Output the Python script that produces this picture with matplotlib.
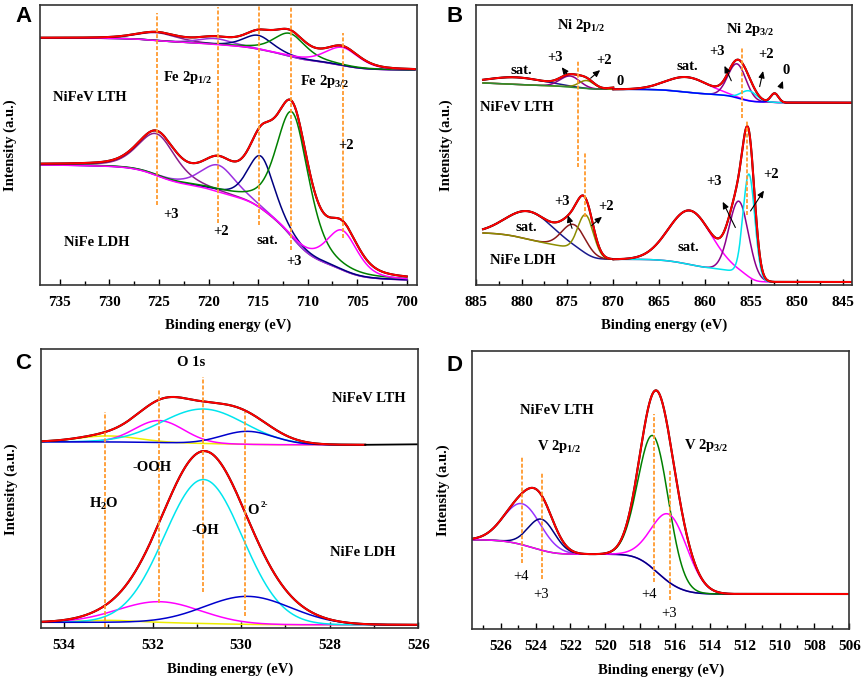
import numpy as np
import matplotlib.pyplot as plt
from matplotlib.ticker import MultipleLocator

plt.rcParams['font.family'] = 'Liberation Serif'
plt.rcParams['font.weight'] = 'bold'
plt.rcParams['axes.labelweight'] = 'bold'
plt.rcParams['mathtext.fontset'] = 'custom'
plt.rcParams['mathtext.rm'] = 'Liberation Serif:bold'
plt.rcParams['mathtext.it'] = 'Liberation Serif:bold'
plt.rcParams['mathtext.bf'] = 'Liberation Serif:bold'

#===== peak data =================================#
# heights in a.u. (above background), positions / fwhm in eV

# A : Fe 2p
A_ldh_range = (700.0, 737.0)
A_ldh_bg = (120, 5)            # high-BE end, low-BE end
A_ldh_pos = [725.2, 719.0, 714.7, 711.5, 706.5]
A_ldh_hgt = [42, 27, 53, 126, 40]
A_ldh_fwhm = [4.5, 4.2, 3.2, 3.9, 3.7]

A_lth_range = (699.2, 737.0)
A_lth_bg = (247, 215)
A_lth_pos = [725.2, 719.3, 715.0, 711.8, 706.5]
A_lth_hgt = [8, 6, 14, 23, 18]
A_lth_fwhm = [5.0, 4.0, 3.5, 3.8, 4.0]

A_col = ['#8B1C8B', '#9B30E0', '#000080', '#008000', '#FF00FF']

# B : Ni 2p  (two fit regions, split at 870 eV)
B_ldh_r1 = (870.0, 884.2)
B_ldh_bg1 = (52, 25.7)
B_ldh_pos1 = [879.1, 874.3, 873.0]
B_ldh_hgt1 = [28, 25, 40]
B_ldh_fwhm1 = [6.0, 3.0, 2.0]
B_ldh_col1 = ['#1A1A8C', '#8B1A1A', '#8C8C00']

B_ldh_r2 = (844.0, 870.0)
B_ldh_bg2 = (25.7, 3)
B_ldh_pos2 = [861.6, 856.3, 855.2]
B_ldh_hgt2 = [54, 72, 104]
B_ldh_fwhm2 = [5.5, 2.5, 1.5]
B_ldh_col2 = ['#FF00FF', '#8B008B', '#00E5EE']

B_lth_r1 = (870.0, 884.2)
B_lth_bg1 = (202, 195.7)
B_lth_pos1 = [880.5, 874.7, 872.9, 869.5]
B_lth_hgt1 = [7, 11, 8, 2]
B_lth_fwhm1 = [7.0, 2.5, 2.0, 2.0]
B_lth_col1 = ['#1A1A8C', '#8B008B', '#8C8C00', '#2E8B2E']

B_lth_r2 = (844.0, 870.0)
B_lth_bg2 = (195.7, 182.3)
B_lth_pos2 = [861.9, 856.5, 855.2, 852.4]
B_lth_hgt2 = [15, 34, 10, 9]
B_lth_fwhm2 = [5.5, 2.3, 2.0, 1.0]
B_lth_col2 = ['#FF00FF', '#8B008B', '#00E5EE', '#0000FF']

# C : O 1s
C_lth_range = (527.2, 534.52)
C_lth_bg = (186.5, 183.5)
C_lth_pos = [533.0, 531.85, 530.85, 529.85]
C_lth_hgt = [6, 22, 34.5, 13]
C_lth_fwhm = [1.6, 1.3, 2.2, 1.4]

C_ldh_range = (526.0, 534.52)
C_ldh_bg = (6, 3.5)
C_ldh_pos = [533.0, 531.85, 530.85, 529.85]
C_ldh_hgt = [2, 21, 144, 28]
C_ldh_fwhm = [1.5, 2.2, 2.07, 2.3]

C_col = ['#EEEE00', '#FF00FF', '#00E5EE', '#0000CD']

# D : V 2p
D_range = (506.0, 527.6)
D_bg = (89.5, 35.3)
D_pos = [524.76, 523.65, 517.23, 516.28]
D_hgt = [41, 31, 133, 68]
D_fwhm = [2.5, 1.8, 2.05, 2.4]
D_col = ['#9933FF', '#000080', '#008000', '#FF00FF']

#===== helpers ============#
orange = '#FF9A2E'

def peak(E, p, h, w, eta):
    x = (E - p) / w
    return h * ((1 - eta) * np.exp(-4 * np.log(2) * x**2) + eta / (1 + 4 * x**2))

def draw_fit(ax, rng, bg_ends, pos, hgt, fwhm, cols, eta=0.0):
    E = np.linspace(rng[0], rng[1], 900)
    comps = [peak(E, p, h, w, eta) for p, h, w in zip(pos, hgt, fwhm)]
    tot = np.sum(comps, axis=0)
    c = np.cumsum(tot)
    bg = bg_ends[1] + (bg_ends[0] - bg_ends[1]) * c / c[-1]   # Shirley type
    for comp, col in zip(comps, cols):
        ax.plot(E, bg + comp, color=col, lw=1.1)
    ax.plot(E, bg + tot, color='black', lw=1.5)
    ax.plot(E, bg + tot, color='#FF0000', lw=1.4)

def vline(ax, x, y0, y1):
    ax.plot([x, x], [y0, y1], color=orange, lw=1.3, ls=(0, (2.2, 1.1)))

def arrow(ax, tail, head):
    ax.annotate('', xy=head, xytext=tail,
                arrowprops=dict(arrowstyle='-|>,head_length=0.4,head_width=0.18',
                                lw=0.8, color='black'))

def setup(ax, xlim, ymax, major, minor):
    ax.set_xlim(xlim)
    ax.set_ylim(0, ymax)
    ax.set_yticks([])
    ax.xaxis.set_major_locator(MultipleLocator(major))
    ax.xaxis.set_minor_locator(MultipleLocator(minor))
    ax.tick_params(axis='x', which='both', direction='in', labelsize=11, pad=8)
    ax.tick_params(axis='x', which='major', length=4, width=1)
    ax.tick_params(axis='x', which='minor', length=3, width=1)
    for s in ax.spines.values():
        s.set_linewidth(1.2)
        s.set_color('#333333')
    ax.set_xlabel('Binding energy (eV)', fontsize=10.5, labelpad=7)
    ax.set_ylabel('Intensity (a.u.)', fontsize=10.5)
    ax.yaxis.set_label_coords(-0.06, 0.5)

W, H = 865, 683
fig = plt.figure(figsize=(W / 100, H / 100), dpi=100)

def box(l, t, r, b):
    return [l / W, (H - b) / H, (r - l) / W, (b - t) / H]

tk = dict(fontsize=10.5, ha='center', va='center')

#===== A ============#
axA = fig.add_axes(box(40, 5, 416.7, 285))
setup(axA, (737, 699), 280, 5, 2.5)
draw_fit(axA, A_lth_range, A_lth_bg, A_lth_pos, A_lth_hgt, A_lth_fwhm, A_col, eta=0.45)
draw_fit(axA, A_ldh_range, A_ldh_bg, A_ldh_pos, A_ldh_hgt, A_ldh_fwhm, A_col, eta=0.45)
vline(axA, 725.2, 80, 271.7)
vline(axA, 719.05, 62.3, 278.3)
vline(axA, 714.9, 60, 281.7)
vline(axA, 711.7, 35, 281)
vline(axA, 706.45, 46.7, 251.7)
axA.text(724.6, 207.7, 'Fe 2p$_{1/2}$', fontsize=10.5, ha='left', va='center')
axA.text(710.8, 203.3, 'Fe 2p$_{3/2}$', fontsize=10.5, ha='left', va='center')
axA.text(735.7, 187.3, 'NiFeV LTH', fontsize=10.5, ha='left', va='center')
axA.text(734.6, 42.3, 'NiFe LDH', fontsize=10.5, ha='left', va='center')
axA.text(723.8, 70, '+3', **tk)
axA.text(718.7, 53.3, '+2', **tk)
axA.text(714.1, 44.3, 'sat.', **tk)
axA.text(711.4, 23.3, '+3', **tk)
axA.text(706.1, 139.3, '+2', **tk)

#===== B ============#
axB = fig.add_axes(box(475.7, 5, 851.7, 285))
setup(axB, (885, 844), 280, 5, 2.5)
draw_fit(axB, B_lth_r1, B_lth_bg1, B_lth_pos1, B_lth_hgt1, B_lth_fwhm1, B_lth_col1)
draw_fit(axB, B_lth_r2, B_lth_bg2, B_lth_pos2, B_lth_hgt2, B_lth_fwhm2, B_lth_col2)
draw_fit(axB, B_ldh_r1, B_ldh_bg1, B_ldh_pos1, B_ldh_hgt1, B_ldh_fwhm1, B_ldh_col1)
draw_fit(axB, B_ldh_r2, B_ldh_bg2, B_ldh_pos2, B_ldh_hgt2, B_ldh_fwhm2, B_ldh_col2)
vline(axB, 873.8, 118.3, 225)
vline(axB, 873.05, 68.3, 131.7)
vline(axB, 856.0, 166.7, 238.3)
vline(axB, 855.45, 70, 165)
axB.text(876.15, 259.3, 'Ni 2p$_{1/2}$', fontsize=10.5, ha='left', va='center')
axB.text(857.75, 255, 'Ni 2p$_{3/2}$', fontsize=10.5, ha='left', va='center')
axB.text(884.5, 177.7, 'NiFeV LTH', fontsize=10.5, ha='left', va='center')
axB.text(883.4, 25, 'NiFe LDH', fontsize=10.5, ha='left', va='center')
for x, y, s in [(880.0, 214.3, 'sat.'), (876.4, 227.7, '+3'), (871.0, 224.3, '+2'),
                (869.3, 203.3, '0'), (861.9, 218.3, 'sat.'), (858.7, 233.3, '+3'),
                (853.3, 230, '+2'), (851.1, 214, '0'), (879.5, 57.3, 'sat.'),
                (875.6, 83.3, '+3'), (870.8, 78.3, '+2'), (861.8, 37.7, 'sat.'),
                (859.0, 103.3, '+3'), (852.8, 110.7, '+2')]:
    axB.text(x, y, s, **tk)
arrow(axB, (874.9, 209), (875.8, 220))
arrow(axB, (872.7, 205), (871.2, 216.7))
arrow(axB, (857.0, 201.7), (858.0, 221.7))
arrow(axB, (854.1, 195.7), (853.6, 216.7))
arrow(axB, (851.9, 194.3), (851.4, 206.7))
arrow(axB, (874.4, 54), (875.05, 72.3))
arrow(axB, (872.6, 57.7), (871.0, 70))
arrow(axB, (856.55, 55), (858.2, 85.7))
arrow(axB, (855.2, 71.7), (853.4, 96.7))

#===== C ============#
axC = fig.add_axes(box(41, 349.3, 418.3, 628.3))
setup(axC, (534.52, 526), 279, 2, 1)
draw_fit(axC, C_lth_range, C_lth_bg, C_lth_pos, C_lth_hgt, C_lth_fwhm, C_col)
axC.plot([527.2, 526.0], [C_lth_bg[1], C_lth_bg[1] + 0.5], color='black', lw=1.3)
draw_fit(axC, C_ldh_range, C_ldh_bg, C_ldh_pos, C_ldh_hgt, C_ldh_fwhm, C_col)
vline(axC, 533.08, 1, 216.6)
vline(axC, 531.86, 25, 239)
vline(axC, 530.87, 36.6, 251)
vline(axC, 529.92, 12.3, 216.6)
axC.text(531.12, 265.6, 'O 1s', **tk)
axC.text(527.96, 230, 'NiFeV LTH', fontsize=10.5, ha='left', va='center')
axC.text(532.02, 161, '-OOH', **tk)
axC.text(533.09, 124, 'H$_2$O', **tk)
axC.text(529.86, 118.3, 'O', fontsize=10.5, ha='left', va='center')
axC.text(529.55, 123.5, '2-', fontsize=6.5, ha='left', va='center')
axC.text(530.82, 97.6, '-OH', **tk)
axC.text(528.0, 76, 'NiFe LDH', fontsize=10.5, ha='left', va='center')

#===== D ============#
axD = fig.add_axes(box(472.3, 351, 849.3, 629.3))
setup(axD, (527.63, 506), 278.3, 2, 1)
draw_fit(axD, D_range, D_bg, D_pos, D_hgt, D_fwhm, D_col)
vline(axD, 524.76, 66.6, 173.3)
vline(axD, 523.65, 50, 156)
vline(axD, 517.23, 47.6, 215.3)
vline(axD, 516.28, 29.3, 160.3)
axD.text(524.9, 218.3, 'NiFeV LTH', fontsize=10.5, ha='left', va='center')
axD.text(523.93, 182.6, 'V 2p$_{1/2}$', fontsize=10.5, ha='left', va='center')
axD.text(515.5, 183.3, 'V 2p$_{3/2}$', fontsize=10.5, ha='left', va='center')
tn = dict(fontsize=10.5, ha='center', va='center', fontweight='normal')
axD.text(524.83, 53.3, '+4', **tn)
axD.text(523.68, 34.3, '+3', **tn)
axD.text(517.48, 35, '+4', **tn)
axD.text(516.32, 16, '+3', **tn)

for x, y, s in [(15, 6, 'A'), (447, 6, 'B'), (15, 353, 'C'), (447, 355, 'D')]:
    fig.text(x / W, 1 - y / H, s, fontsize=16, fontweight='bold',
             family='Liberation Sans', ha='left', va='top')

plt.savefig('out.png', dpi=100)
